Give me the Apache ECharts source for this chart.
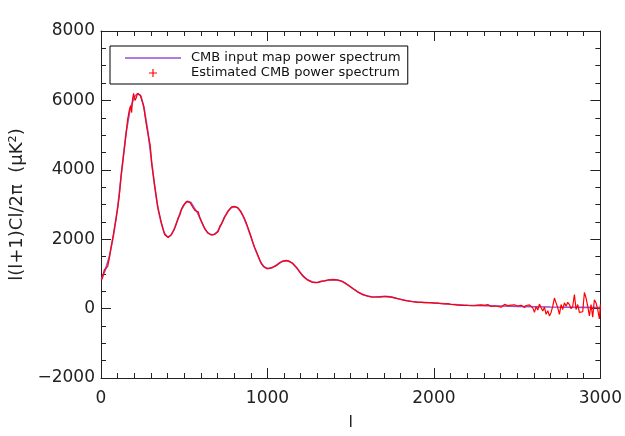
<!DOCTYPE html>
<html>
<head>
<meta charset="utf-8">
<script src="https://cdn.jsdelivr.net/npm/echarts@6/dist/echarts.min.js"></script>
<style>
html,body{margin:0;padding:0;background:#fff;}
#chart{width:625px;height:436px;}
</style>
</head>
<body>
<div id="chart"></div>
<script>
var seriesNames = ['CMB input map power spectrum', 'Estimated CMB power spectrum'];
var xTicks = [0, 1000, 2000, 3000];
var yTicks = [-2000, 0, 2000, 4000, 6000, 8000];

// Input map power spectrum [l, value]
var inputSpectrum = [
[2,850],[25,1100],[50,1500],[75,2100],[100,2900],[125,4000],[150,5050],[175,5750],[200,6100],[220,6200],
[240,6120],[260,5750],[280,5150],[300,4400],[320,3600],[340,2950],[360,2500],[380,2180],[400,2060],[420,2110],
[440,2290],[460,2550],[480,2820],[500,3000],[520,3090],[540,3060],[560,2900],[580,2760],[600,2550],[620,2330],
[640,2190],[660,2130],[680,2140],[700,2220],[720,2400],[740,2620],[760,2790],[780,2900],[800,2940],[820,2910],
[840,2800],[860,2600],[880,2350],[900,2070],[920,1790],[940,1550],[960,1330],[980,1200],[1000,1150],[1030,1180],
[1060,1270],[1090,1360],[1120,1380],[1150,1310],[1180,1150],[1210,960],[1240,830],[1270,765],[1300,750],[1330,790],
[1360,815],[1390,835],[1420,825],[1450,780],[1480,690],[1510,590],[1540,490],[1570,410],[1600,365],[1630,335],
[1660,335],[1690,345],[1720,345],[1750,330],[1780,290],[1810,255],[1840,225],[1870,205],[1900,190],[1950,175],
[2000,160],[2050,145],[2100,125],[2150,110],[2200,95],[2300,85],[2400,75],[2500,65],[2600,55],[2700,45],
[2800,40],[2900,35],[3000,30]
];

// Estimated power spectrum [l, value]
var estimatedSpectrum = [
[2,820],[10,900],[20,1120],[30,1170],[40,1210],[50,1450],[60,1750],[70,2020],[80,2300],[90,2580],
[100,2900],[110,3250],[120,3800],[130,4200],[140,4600],[150,5000],[160,5450],[170,5720],[178,5850],[184,5650],
[190,6050],[196,6200],[204,6000],[212,6080],[220,6200],[228,6240],[236,6150],[246,6000],[256,5850],[266,5500],
[276,5200],[286,4950],[296,4700],[304,4200],[314,3850],[324,3500],[334,3150],[344,2850],[354,2650],[364,2450],
[374,2260],[384,2120],[394,2070],[404,2050],[414,2080],[424,2140],[434,2230],[444,2330],[454,2470],[464,2610],
[474,2700],[484,2870],[494,2960],[504,3030],[514,3090],[524,3110],[534,3060],[544,3030],[554,2900],[564,2830],
[574,2830],[584,2790],[594,2620],[604,2500],[614,2400],[624,2300],[634,2230],[644,2170],[654,2140],[664,2120],
[674,2150],[684,2140],[694,2180],[704,2220],[714,2380],[724,2440],[734,2540],[744,2650],[754,2720],[764,2810],
[774,2870],[784,2930],[794,2940],[804,2940],[814,2930],[824,2900],[834,2830],[844,2780],[854,2670],[864,2570],
[874,2450],[884,2320],[894,2180],[904,2040],[914,1880],[924,1750],[934,1640],[944,1520],[954,1400],[964,1290],
[974,1230],[984,1190],[994,1160],[1004,1150],[1014,1160],[1024,1180],[1034,1200],[1044,1230],[1054,1240],[1064,1290],
[1074,1330],[1084,1360],[1094,1370],[1104,1380],[1114,1390],[1124,1380],[1134,1360],[1144,1340],[1154,1290],[1164,1250],
[1174,1190],[1184,1120],[1194,1050],[1204,990],[1214,940],[1224,890],[1234,860],[1244,820],[1254,790],[1264,770],
[1274,760],[1284,750],[1294,745],[1304,755],[1314,770],[1324,790],[1334,800],[1344,800],[1354,810],[1364,825],
[1374,820],[1384,830],[1394,840],[1404,835],[1414,835],[1424,820],[1434,810],[1444,795],[1454,770],[1464,745],
[1474,720],[1484,680],[1494,640],[1504,610],[1514,575],[1524,540],[1534,505],[1544,475],[1554,450],[1564,425],
[1574,400],[1584,385],[1594,370],[1604,360],[1614,350],[1624,340],[1634,330],[1644,335],[1654,330],[1664,340],
[1674,345],[1684,340],[1694,350],[1704,355],[1714,348],[1724,345],[1734,340],[1744,332],[1754,325],[1764,310],
[1774,295],[1784,285],[1794,270],[1804,262],[1814,250],[1824,238],[1834,232],[1844,220],[1854,212],[1864,205],
[1874,198],[1884,196],[1894,190],[1904,180],[1914,186],[1924,178],[1934,183],[1944,174],[1954,178],[1964,170],
[1974,160],[1984,172],[1994,165],[2004,158],[2014,150],[2024,160],[2034,148],[2044,140],[2054,150],[2064,138],
[2074,130],[2084,145],[2094,126],[2104,118],[2114,130],[2124,112],[2134,120],[2144,100],[2154,115],[2164,95],
[2174,110],[2184,90],[2194,80],[2204,95],[2214,70],[2224,82],[2234,60],[2244,85],[2254,70],[2264,98],
[2274,75],[2284,110],[2294,80],[2304,95],[2314,70],[2324,115],[2334,90],[2344,60],[2354,30],[2364,75],
[2374,95],[2384,60],[2394,85],[2404,40],[2414,70],[2424,120],[2434,135],[2444,85],[2454,60],[2464,100],
[2474,70],[2484,110],[2494,55],[2504,75],[2514,40],[2524,95],[2534,60],[2544,30],[2554,90],[2564,70],
[2574,105],[2584,80],[2594,20],[2604,-110],[2614,60],[2624,-40],[2634,130],[2644,25],[2654,-70],[2664,40],
[2674,-165],[2684,-60],[2694,-210],[2704,-110],[2714,70],[2724,305],[2734,165],[2744,23],[2754,-165],[2764,117],
[2774,-25],[2784,165],[2794,70],[2804,180],[2814,117],[2824,-5],[2834,70],[2844,407],[2854,-25],[2864,117],
[2874,-110],[2884,-70],[2894,-90],[2904,463],[2914,305],[2924,70],[2934,-210],[2944,117],[2954,-250],[2964,257],
[2974,165],[2984,-25],[2994,-300],[3000,120]
];

var FONT = 'DejaVu Sans';
var AX = '#222';
function fmt(v) { return String(v).replace('-', '\u2212'); }

function xAxisDef(pos, showLabel) {
  return {
    type: 'value', position: pos, min: xTicks[0], max: xTicks[xTicks.length-1],
    interval: xTicks[1] - xTicks[0],
    axisLine: {show: true, onZero: false, lineStyle: {color: AX, width: 1}},
    axisTick: {show: true, inside: true, length: 10, lineStyle: {color: AX}},
    minorTick: {show: true, splitNumber: 10, length: 5, lineStyle: {color: AX}},
    splitLine: {show: false},
    axisLabel: {show: showLabel, margin: 12, fontSize: 17, color: AX, fontFamily: FONT, formatter: fmt},
    name: showLabel ? 'l' : '', nameLocation: 'middle', nameGap: 37,
    nameTextStyle: {fontSize: 16, color: AX, fontFamily: FONT}
  };
}
function yAxisDef(pos, showLabel) {
  return {
    type: 'value', position: pos, min: yTicks[0], max: yTicks[yTicks.length-1],
    interval: yTicks[1] - yTicks[0],
    axisLine: {show: true, onZero: false, lineStyle: {color: AX, width: 1}},
    axisTick: {show: true, inside: true, length: 10, lineStyle: {color: AX}},
    minorTick: {show: true, splitNumber: 4, length: 5, lineStyle: {color: AX}},
    splitLine: {show: false},
    axisLabel: {show: showLabel, margin: 6, fontSize: 17, color: AX, fontFamily: FONT, formatter: fmt},
    name: showLabel ? 'l(l+1)Cl/2π  (μK²)' : '', nameLocation: 'middle', nameGap: 73,
    nameRotate: 90,
    nameTextStyle: {fontSize: 18, color: AX, fontFamily: FONT}
  };
}

var chart = echarts.init(document.getElementById('chart'), null, {renderer: 'canvas'});
chart.setOption({
  animation: false,
  backgroundColor: '#fff',
  grid: {left: 101, top: 31, width: 501, height: 356, containLabel: false},
  xAxis: [xAxisDef('bottom', true), xAxisDef('top', false)],
  yAxis: [yAxisDef('left', true), yAxisDef('right', false)],
  legend: {
    left: 110, top: 46, orient: 'vertical',
    backgroundColor: '#fff',
    borderColor: '#000', borderWidth: 1, borderRadius: 0,
    padding: [5, 7, 4, 15],
    itemWidth: 56, itemHeight: 8, itemGap: 1,
    itemStyle: {borderWidth: 0},
    textStyle: {fontSize: 13, fontFamily: FONT, color: '#111', lineHeight: 14, padding: [0, 0, 0, 5]},
    data: [
      {name: seriesNames[0], icon: 'path://M0,0H56V1.6H0Z'},
      {name: seriesNames[1], icon: 'path://M3,0H4V3H7V4H4V7H3V4H0V3H3Z'}
    ]
  },
  series: [
    {
      name: seriesNames[0], type: 'line', data: inputSpectrum,
      showSymbol: false, symbol: 'none',
      lineStyle: {color: '#9650d2', width: 1.6}, itemStyle: {color: '#9650d2'},
      xAxisIndex: 0, yAxisIndex: 0, z: 2
    },
    {
      name: seriesNames[1], type: 'line', data: estimatedSpectrum,
      showSymbol: false, symbol: 'none',
      lineStyle: {color: '#ff0000', width: 1.2}, itemStyle: {color: '#ff0000'},
      xAxisIndex: 0, yAxisIndex: 0, z: 3
    }
  ]
});
</script>
</body>
</html>
